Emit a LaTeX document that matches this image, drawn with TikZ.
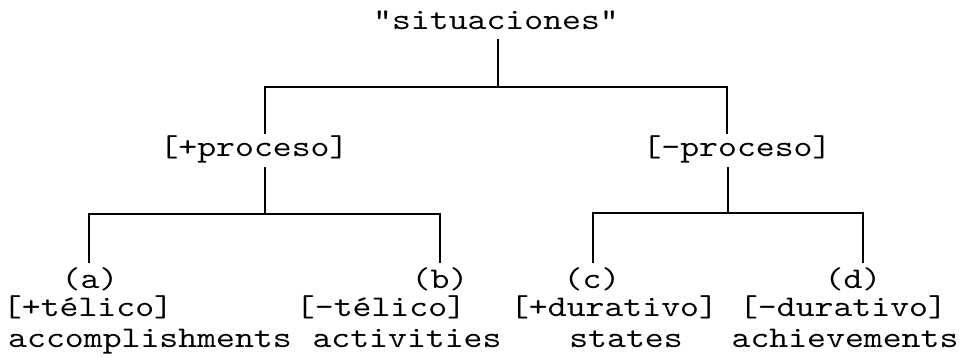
\documentclass[tikz,border=0pt]{standalone}
\usepackage{fontspec}
\setmonofont{lmmono10-regular}[Extension=.otf, FakeStretch=1.2]
\begin{document}
\begin{tikzpicture}[x=1pt,y=-1pt,
  lbl/.style={anchor=base,inner sep=0pt,text height=16pt,text depth=3pt,
    font=\ttfamily\fontsize{30}{32}\selectfont},
  branch/.style={line width=2pt,line cap=rect}]
\useasboundingbox (0,0) rectangle (979,358);

% labels
\node[lbl] (s)  at (496,30)  {"situaciones"};
\node[lbl] (pp) at (254,157) {[+proceso]};
\node[lbl] (mp) at (737,157) {[-proceso]};
\node[lbl] (a)  at (90,288)  {(a)};
\node[lbl] (b)  at (440,288) {(b)};
\node[lbl] (c)  at (592,288) {(c)};
\node[lbl] (d)  at (853,288) {(d)};
\node[lbl] (at) at (88,316)  {[+télico]};
\node[lbl] (bt) at (381,316) {[-télico]};
\node[lbl] (cd) at (614,316) {[+durativo]};
\node[lbl] (dd) at (843,316) {[-durativo]};
\node[lbl] (an) at (150,347) {accomplishments};
\node[lbl] (bn) at (407,347) {activities};
\node[lbl] (cn) at (626,347) {states};
\node[lbl] (dn) at (845,347) {achievements};

% branch points
\coordinate (s0) at (498,40);
\coordinate (s1) at (498,87);
\coordinate (l1) at (265,87);
\coordinate (r1) at (727,87);
\coordinate (l2) at (265,133);
\coordinate (r2) at (727,133);
\coordinate (p0) at (265,168);
\coordinate (p1) at (265,214);
\coordinate (pa) at (89,214);
\coordinate (pb) at (440,214);
\coordinate (pa2) at (89,262);
\coordinate (pb2) at (440,262);
\coordinate (m0) at (728,168);
\coordinate (m1) at (728,213);
\coordinate (mc) at (593,213);
\coordinate (md) at (863,213);
\coordinate (mc2) at (593,262);
\coordinate (md2) at (863,262);

% tree
\draw[branch] (s0) -- (s1);
\draw[branch] (l2) -- (l1) -- (r1) -- (r2);
\draw[branch] (p0) -- (p1);
\draw[branch] (pa2) -- (pa) -- (pb) -- (pb2);
\draw[branch] (m0) -- (m1);
\draw[branch] (mc2) -- (mc) -- (md) -- (md2);
\end{tikzpicture}
\end{document}
